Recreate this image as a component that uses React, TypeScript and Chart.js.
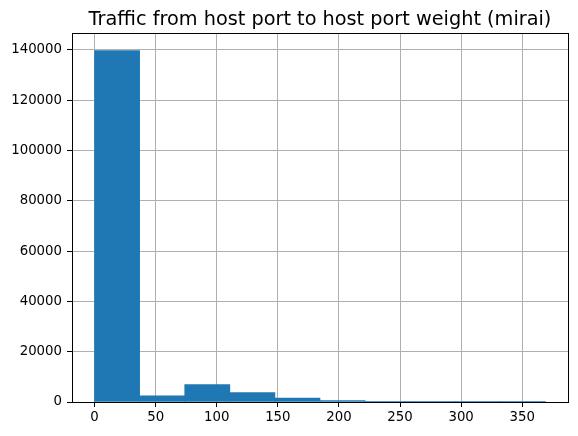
import React, { useEffect, useRef } from "react";
import { Chart, registerables } from "chart.js";

Chart.register(...registerables);

const TITLE = "Traffic from host port to host port weight (mirai)";
const BIN_START = 0;
const BIN_WIDTH = 36.9;
const COUNTS = [139700, 2450, 6900, 3700, 1600, 520, 20, 8, 3, 1];
const X_TICKS = [0, 50, 100, 150, 200, 250, 300, 350];
const Y_TICKS = [0, 20000, 40000, 60000, 80000, 100000, 120000, 140000];

const BAR_COLOR = "#1f77b4";
const FONT = "'DejaVu Sans', sans-serif";

export default function App() {
  const ref = useRef<HTMLCanvasElement | null>(null);

  useEffect(() => {
    if (!ref.current) return;
    const points = COUNTS.map((c, i) => ({ x: BIN_START + BIN_WIDTH * (i + 0.5), y: c }));
    const xMaxData = BIN_START + BIN_WIDTH * COUNTS.length;
    const xSpan = xMaxData - BIN_START;
    const yMax = Math.max(...COUNTS) * 1.05;

    const framePlugin = {
      id: "frame",
      afterDraw(chart: any) {
        const { ctx, chartArea } = chart;
        ctx.save();
        ctx.strokeStyle = "#000";
        ctx.lineWidth = 1;
        ctx.strokeRect(
          Math.round(chartArea.left) + 0.5,
          Math.round(chartArea.top) + 0.5,
          Math.round(chartArea.right - chartArea.left),
          Math.round(chartArea.bottom - chartArea.top)
        );
        ctx.fillStyle = "#000";
        ctx.font = `19.3px ${FONT}`;
        ctx.textAlign = "center";
        ctx.textBaseline = "alphabetic";
        ctx.fillText(TITLE, (chartArea.left + chartArea.right) / 2, chartArea.top - 8);
        ctx.restore();
      },
    };

    const chart = new Chart(ref.current, {
      type: "bar",
      data: {
        datasets: [
          {
            data: points as any,
            backgroundColor: BAR_COLOR,
            borderWidth: 0,
            barPercentage: 1,
            categoryPercentage: 1,
          },
        ],
      },
      options: {
        animation: false,
        responsive: false,
        layout: { padding: { left: 0, right: 10, top: 33, bottom: 0 } },
        plugins: {
          legend: { display: false },
          title: { display: false },
          tooltip: { enabled: false },
        },
        scales: {
          x: {
            type: "linear",
            offset: false,
            min: BIN_START - 0.05 * xSpan,
            max: xMaxData + 0.05 * xSpan,
            z: 1,
            afterBuildTicks: (scale: any) => {
              scale.ticks = X_TICKS.map((v) => ({ value: v }));
            },
            afterFit: (scale: any) => {
              scale.height = 34;
            },
            grid: {
              offset: false,
              color: "#b0b0b0",
              lineWidth: 1,
              tickColor: "#000",
              tickLength: 5,
              drawTicks: true,
            },
            border: { display: true, color: "#000", width: 1 },
            ticks: {
              color: "#000",
              font: { family: FONT, size: 13.3 },
              padding: 3,
              maxRotation: 0,
              autoSkip: false,
            },
          },
          y: {
            type: "linear",
            min: 0,
            max: yMax,
            z: 1,
            afterBuildTicks: (scale: any) => {
              scale.ticks = Y_TICKS.map((v) => ({ value: v }));
            },
            afterFit: (scale: any) => {
              scale.width = 72;
            },
            grid: {
              color: "#b0b0b0",
              lineWidth: 1,
              tickColor: "#000",
              tickLength: 5,
              drawTicks: true,
            },
            border: { display: true, color: "#000", width: 1 },
            ticks: {
              color: "#000",
              font: { family: FONT, size: 13.3 },
              padding: 5,
              autoSkip: false,
              callback: (v: any) => String(v),
            },
          },
        },
      },
      plugins: [framePlugin],
    });
    return () => chart.destroy();
  }, []);

  return (
    <div style={{ position: "fixed", left: 0, top: 0, width: 578, height: 436, background: "#fff" }}>
      <canvas ref={ref} width={578} height={436} style={{ display: "block", width: 578, height: 436 }} />
    </div>
  );
}
